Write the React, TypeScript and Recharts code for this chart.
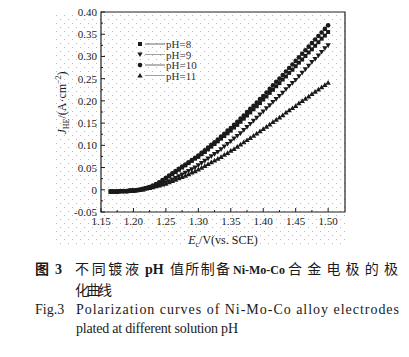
import { LineChart, Line, XAxis, YAxis, ReferenceArea } from 'recharts'

// electrode potential, V vs. SCE
const potential = [
  1.165, 1.17, 1.175, 1.18, 1.185, 1.19, 1.195, 1.2, 1.205, 1.21,
  1.215, 1.22, 1.225, 1.23, 1.235, 1.24, 1.245, 1.25, 1.255, 1.26,
  1.265, 1.27, 1.275, 1.28, 1.285, 1.29, 1.295, 1.3, 1.305, 1.31,
  1.315, 1.32, 1.325, 1.33, 1.335, 1.34, 1.345, 1.35, 1.355, 1.36,
  1.365, 1.37, 1.375, 1.38, 1.385, 1.39, 1.395, 1.4, 1.405, 1.41,
  1.415, 1.42, 1.425, 1.43, 1.435, 1.44, 1.445, 1.45, 1.455, 1.46,
  1.465, 1.47, 1.475, 1.48, 1.485, 1.49, 1.495, 1.5,
]

// current density, A/cm2
const ph8 = [
  -0.004, -0.004, -0.004, -0.003, -0.003, -0.003, -0.002, -0.002, -0.001, 0.0,
  0.002, 0.004, 0.006, 0.009, 0.012, 0.016, 0.021, 0.025, 0.03, 0.035,
  0.04, 0.045, 0.05, 0.055, 0.06, 0.065, 0.07, 0.074, 0.08, 0.085,
  0.091, 0.097, 0.103, 0.109, 0.115, 0.121, 0.127, 0.133, 0.14, 0.146,
  0.153, 0.16, 0.167, 0.174, 0.181, 0.188, 0.195, 0.203, 0.21, 0.218,
  0.225, 0.233, 0.24, 0.248, 0.255, 0.263, 0.27, 0.278, 0.286, 0.293,
  0.301, 0.309, 0.316, 0.324, 0.332, 0.34, 0.347, 0.355,
]

const ph9 = [
  -0.004, -0.004, -0.004, -0.003, -0.003, -0.003, -0.002, -0.002, -0.001, 0.0,
  0.001, 0.003, 0.005, 0.007, 0.009, 0.011, 0.013, 0.016, 0.019, 0.023,
  0.026, 0.03, 0.034, 0.038, 0.042, 0.046, 0.05, 0.055, 0.06, 0.065,
  0.07, 0.075, 0.08, 0.085, 0.091, 0.097, 0.103, 0.109, 0.115, 0.121,
  0.127, 0.134, 0.141, 0.148, 0.155, 0.162, 0.169, 0.176, 0.183, 0.19,
  0.197, 0.204, 0.211, 0.218, 0.226, 0.233, 0.24, 0.247, 0.255, 0.263,
  0.271, 0.279, 0.287, 0.294, 0.302, 0.31, 0.318, 0.325,
]

const ph10 = [
  -0.004, -0.004, -0.004, -0.003, -0.003, -0.003, -0.002, -0.002, -0.001, 0.0,
  0.002, 0.004, 0.006, 0.009, 0.013, 0.017, 0.022, 0.027, 0.032, 0.037,
  0.042, 0.047, 0.052, 0.057, 0.062, 0.067, 0.072, 0.077, 0.083, 0.089,
  0.095, 0.101, 0.107, 0.113, 0.12, 0.126, 0.133, 0.139, 0.146, 0.153,
  0.16, 0.167, 0.175, 0.182, 0.189, 0.196, 0.204, 0.211, 0.219, 0.227,
  0.235, 0.243, 0.25, 0.258, 0.266, 0.274, 0.282, 0.29, 0.298, 0.306,
  0.314, 0.322, 0.33, 0.338, 0.346, 0.354, 0.362, 0.37,
]

const ph11 = [
  -0.004, -0.004, -0.004, -0.003, -0.003, -0.003, -0.002, -0.002, -0.001, 0.0,
  0.001, 0.003, 0.004, 0.006, 0.008, 0.01, 0.012, 0.014, 0.017, 0.02,
  0.023, 0.026, 0.029, 0.032, 0.035, 0.039, 0.042, 0.046, 0.05, 0.054,
  0.058, 0.062, 0.066, 0.07, 0.074, 0.079, 0.083, 0.088, 0.092, 0.097,
  0.102, 0.107, 0.112, 0.117, 0.122, 0.127, 0.132, 0.137, 0.142, 0.147,
  0.153, 0.158, 0.163, 0.168, 0.174, 0.179, 0.184, 0.189, 0.195, 0.2,
  0.205, 0.21, 0.216, 0.221, 0.226, 0.231, 0.236, 0.241,
]

const seriesNames = ['pH=8', 'pH=9', 'pH=10', 'pH=11']

const xMajor = [1.15, 1.2, 1.25, 1.3, 1.35, 1.4, 1.45, 1.5]
const xMinor = [1.175, 1.225, 1.275, 1.325, 1.375, 1.425, 1.475]
const yMajor = [-0.05, 0, 0.05, 0.1, 0.15, 0.2, 0.25, 0.3, 0.35, 0.4]
const yMinor = [-0.025, 0.025, 0.075, 0.125, 0.175, 0.225, 0.275, 0.325, 0.375]

const data = potential.map((e, i) => ({
  e,
  ph8: ph8[i],
  ph9: ph9[i],
  ph10: ph10[i],
  ph11: ph11[i],
}))

type Shape = 'square' | 'down' | 'circle' | 'up'

const series: { key: string; name: string; shape: Shape; stroke: string }[] = [
  { key: 'ph11', name: seriesNames[3], shape: 'up', stroke: '#888' },
  { key: 'ph9', name: seriesNames[1], shape: 'down', stroke: '#888' },
  { key: 'ph8', name: seriesNames[0], shape: 'square', stroke: '#444' },
  { key: 'ph10', name: seriesNames[2], shape: 'circle', stroke: '#444' },
]
const legendOrder = ['ph8', 'ph9', 'ph10', 'ph11']

const SERIF = '"Liberation Serif", "DejaVu Serif", serif'
const CJK = '"Noto Sans CJK SC", sans-serif'
const INK = '#1a1a1a'

function Marker({ cx, cy, shape }: { cx?: number; cy?: number; shape: Shape }) {
  if (cx == null || cy == null) return null
  if (shape === 'square') {
    return <rect x={cx - 2} y={cy - 2} width={4} height={4} fill={INK} />
  }
  if (shape === 'circle') {
    return <circle cx={cx} cy={cy} r={2.3} fill={INK} />
  }
  if (shape === 'down') {
    return (
      <path
        d={`M${cx - 2.7},${cy - 2.1} L${cx + 2.7},${cy - 2.1} L${cx},${cy + 2.6} Z`}
        fill={INK}
      />
    )
  }
  return (
    <path
      d={`M${cx - 2.7},${cy + 2.1} L${cx + 2.7},${cy + 2.1} L${cx},${cy - 2.6} Z`}
      fill={INK}
    />
  )
}

const near = (list: number[], v: number) => list.some((t) => Math.abs(t - v) < 1e-6)

function XTick(props: any) {
  const { x, y, payload } = props
  const major = near(xMajor, payload.value)
  return (
    <g>
      <line x1={x} x2={x} y1={y} y2={y - (major ? 4 : 2)} stroke={INK} strokeWidth={1} />
      {major && (
        <text x={x} y={y + 13} textAnchor="middle" fontSize={11} fontFamily={SERIF} fill={INK}>
          {payload.value.toFixed(2)}
        </text>
      )}
    </g>
  )
}

function YTick(props: any) {
  const { x, y, payload } = props
  const major = near(yMajor, payload.value)
  const v = payload.value
  const label = Math.abs(v) < 1e-9 ? '0' : v.toFixed(2)
  return (
    <g>
      <line x1={x} x2={x + (major ? 4 : 2)} y1={y} y2={y} stroke={INK} strokeWidth={1} />
      {major && (
        <text x={x - 4} y={y + 4} textAnchor="end" fontSize={11} fontFamily={SERIF} fill={INK}>
          {label}
        </text>
      )}
    </g>
  )
}

function Backdrop() {
  const legendY = [44, 54.5, 65, 75.5]
  return (
    <svg width={409} height={357} style={{ position: 'absolute', left: 0, top: 0 }}>
      <defs>
        <pattern id="dots" x={56} y={15} width={8} height={8} patternUnits="userSpaceOnUse">
          <rect x={0} y={0} width={1} height={1} fill="#b8b8b8" />
          <rect x={4} y={4} width={1} height={1} fill="#b8b8b8" />
        </pattern>
      </defs>
      <rect x={55} y={12} width={293} height={234} fill="url(#dots)" />

      {/* legend */}
      {legendOrder.map((k, i) => {
        const s = series.find((d) => d.key === k)!
        const y = legendY[i]
        return (
          <g key={k}>
            <Marker cx={140} cy={y} shape={s.shape} />
            <line x1={145} x2={165} y1={y} y2={y} stroke={s.stroke} strokeWidth={0.8} />
            <text x={166} y={y + 4} fontSize={11} fontFamily={SERIF} fill="#333">
              {s.name}
            </text>
          </g>
        )
      })}

      {/* axis titles */}
      <text
        transform="translate(66,103) rotate(-90)"
        textAnchor="middle"
        fontSize={12}
        fontFamily={SERIF}
        fill={INK}
      >
        <tspan fontStyle="italic">J</tspan>
        <tspan fontSize={8} dy={3}>HE</tspan>
        <tspan dy={-3}>/(A·cm</tspan>
        <tspan fontSize={8} dy={-5}>−2</tspan>
        <tspan dy={5}>)</tspan>
      </text>
      <text x={223} y={244} textAnchor="middle" fontSize={12} fontFamily={SERIF} fill={INK}>
        <tspan fontStyle="italic">E</tspan>
        <tspan fontSize={8} dy={3}>c</tspan>
        <tspan dy={-3}>/V(vs. SCE)</tspan>
      </text>

      {/* caption */}
      <g fill={INK}>
        <text x={35} y={274} fontSize={14} fontFamily={CJK} fontWeight={700}>图</text>
        <text x={55} y={274} fontSize={14} fontFamily={SERIF} fontWeight={700}>3</text>
        <text x={75} y={274} fontSize={14} fontFamily={CJK} textLength={64} lengthAdjust="spacing">不同镀液</text>
        <text x={145} y={274} fontSize={14} fontFamily={SERIF} fontWeight={700}>pH</text>
        <text x={170} y={274} fontSize={14} fontFamily={CJK} textLength={60} lengthAdjust="spacing">值所制备</text>
        <text x={233} y={274} fontSize={12} fontFamily={SERIF} fontWeight={700}>Ni-Mo-Co</text>
        <text x={288} y={274} fontSize={14} fontFamily={CJK} textLength={110} lengthAdjust="spacing">合金电极的极</text>
        <text x={75} y={295} fontSize={14} fontFamily={CJK} textLength={37} lengthAdjust="spacing">化曲线</text>
        <text x={35} y={314} fontSize={14} fontFamily={SERIF}>Fig.3</text>
        <text x={76} y={314} fontSize={14} fontFamily={SERIF} textLength={323} lengthAdjust="spacing">Polarization curves of Ni-Mo-Co alloy electrodes</text>
        <text x={76} y={333} fontSize={14} fontFamily={SERIF} textLength={162} lengthAdjust="spacing">plated at different solution pH</text>
      </g>
    </svg>
  )
}

export default function App() {
  return (
    <div style={{ position: 'absolute', left: 0, top: 0, width: 409, height: 357, background: '#fff' }}>
      <Backdrop />
      <div style={{ position: 'absolute', left: 0, top: 0 }}>
        <LineChart
          width={409}
          height={245}
          data={data}
          margin={{ top: 12, right: 64, bottom: 0, left: 0 }}
        >
          <XAxis
            dataKey="e"
            type="number"
            domain={[1.15, 1.526]}
            ticks={[...xMajor, ...xMinor].sort((a, b) => a - b)}
            interval={0}
            height={33}
            axisLine={false}
            tickLine={false}
            tickSize={0}
            tickMargin={0}
            tick={<XTick />}
            allowDataOverflow
          />
          <YAxis
            type="number"
            domain={[-0.05, 0.4]}
            ticks={[...yMajor, ...yMinor].sort((a, b) => a - b)}
            interval={0}
            width={101}
            axisLine={false}
            tickLine={false}
            tickSize={0}
            tickMargin={0}
            tick={<YTick />}
            allowDataOverflow
          />
          <ReferenceArea
            x1={1.15}
            x2={1.526}
            y1={-0.05}
            y2={0.4}
            fill="none"
            fillOpacity={0}
            stroke="#222"
            strokeWidth={1.2}
          />
          {series.map((s) => (
            <Line
              key={s.key}
              dataKey={s.key}
              name={s.name}
              stroke={s.stroke}
              strokeWidth={0.8}
              isAnimationActive={false}
              dot={(p: any) => <Marker key={`${s.key}-${p.index}`} cx={p.cx} cy={p.cy} shape={s.shape} />}
              activeDot={false}
            />
          ))}
        </LineChart>
      </div>
    </div>
  )
}
